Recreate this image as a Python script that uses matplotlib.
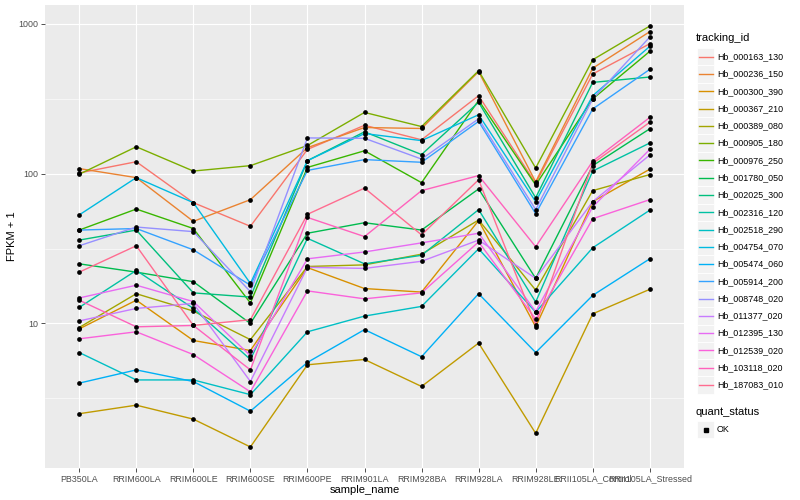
import matplotlib
matplotlib.use("Agg")
import matplotlib.pyplot as plt
import numpy as np
from matplotlib.patches import Rectangle
from matplotlib.lines import Line2D

plt.rcParams["font.family"] = ["Liberation Sans", "DejaVu Sans"]

# ----------------------------------------------------------------- data
samples = ["PB350LA", "RRIM600LA", "RRIM600LE", "RRIM600SE", "RRIM600PE",
           "RRIM901LA", "RRIM928BA", "RRIM928LA", "RRIM928LE",
           "RRII105LA_Control", "RRII105LA_Stressed"]

tracking_ids = ["Hb_000163_130", "Hb_000236_150", "Hb_000300_390", "Hb_000367_210",
                "Hb_000389_080", "Hb_000905_180", "Hb_000976_250", "Hb_001780_050",
                "Hb_002025_300", "Hb_002316_120", "Hb_002518_290", "Hb_004754_070",
                "Hb_005474_060", "Hb_005914_200", "Hb_008748_020", "Hb_011377_020",
                "Hb_012395_130", "Hb_012539_020", "Hb_103118_020", "Hb_187083_010"]

# ggplot default hue palette, 20 levels
hue_colors = ["#F8766D", "#EA8331", "#D89000", "#C09B00", "#A3A500", "#7CAE00",
              "#39B600", "#00BB4E", "#00BF7D", "#00C1A3", "#00BFC4", "#00BAE0",
              "#00B0F6", "#35A2FF", "#9590FF", "#C77CFF", "#E76BF3", "#FA62DB",
              "#FF62BC", "#FF6C90"]

# FPKM + 1, one list per gene, in sample order
hb_000163_130 = [101, 120, 64, 44.5, 145, 210, 168, 331, 86, 462, 735]
hb_000236_150 = [108, 94, 48, 67, 149, 203, 200, 479, 88, 505, 885]
hb_000300_390 = [9.2, 14.3, 7.7, 6.6, 23.6, 17.1, 16.2, 48.6, 9.5, 65, 107]
hb_000367_210 = [2.5, 2.85, 2.3, 1.5, 5.3, 5.75, 3.8, 7.4, 1.85, 11.6, 16.9]
hb_000389_080 = [9.4, 15.8, 12.1, 7.8, 24, 24.6, 29, 49, 16.7, 77, 98.5]
hb_000905_180 = [99, 151, 104, 113, 154, 256, 206, 486, 109, 575, 965]
hb_000976_250 = [42, 58, 43, 13.7, 110, 142, 87, 308, 84, 315, 654]
hb_001780_050 = [25, 22, 19, 10, 40, 47, 42, 79, 20, 113, 199]
hb_002025_300 = [36, 42, 16, 15, 122, 190, 134, 299, 69, 406, 441]
hb_002316_120 = [12.8, 22.6, 12.6, 5.75, 37, 25, 28.5, 57.5, 13.9, 104, 160]
hb_002518_290 = [6.4, 4.2, 4.2, 3.35, 8.8, 11.2, 13, 31.5, 11.9, 32, 57]
hb_004754_070 = [53, 94, 64, 18.5, 122, 185, 166, 247, 65, 331, 706]
hb_005474_060 = [4.0, 4.9, 4.1, 2.6, 5.5, 9.1, 6.0, 15.8, 6.4, 15.4, 27]
hb_005914_200 = [42, 43, 31, 18, 105, 124, 119, 223, 54, 270, 496]
hb_008748_020 = [33, 44, 41, 16.3, 173, 172, 125, 232, 57.5, 315, 815]
hb_011377_020 = [10.4, 12.6, 13.6, 4.1, 23.7, 23.3, 26, 36, 20, 65, 133]
hb_012395_130 = [14.8, 18, 14, 6.1, 27, 30, 34.5, 40, 12, 60, 145]
hb_012539_020 = [7.9, 8.8, 6.2, 3.5, 16.5, 14.6, 16, 35, 10.7, 50, 67]
hb_103118_020 = [14.3, 9.5, 9.7, 4.9, 51, 38, 77, 97, 32.5, 121, 237]
hb_187083_010 = [22, 33, 9.7, 10.6, 53.5, 80, 39, 91, 9.8, 117, 220]

series = [hb_000163_130, hb_000236_150, hb_000300_390, hb_000367_210, hb_000389_080,
          hb_000905_180, hb_000976_250, hb_001780_050, hb_002025_300, hb_002316_120,
          hb_002518_290, hb_004754_070, hb_005474_060, hb_005914_200, hb_008748_020,
          hb_011377_020, hb_012395_130, hb_012539_020, hb_103118_020, hb_187083_010]

y_ticks = [10, 100, 1000]
quant_levels = ["OK"]

# ----------------------------------------------------------------- plot
W, H = 800, 500
fig = plt.figure(figsize=(8, 5), dpi=100)
ax = fig.add_axes([45 / W, 1 - 468 / H, (684 - 45) / W, (468 - 5) / H])
ax.set_facecolor("#EBEBEB")
for s in ax.spines.values():
    s.set_visible(False)

x = np.arange(len(samples))
for vals, col in zip(series, hue_colors):
    ax.plot(x, vals, color=col, lw=1.0, zorder=3)
for vals in series:
    ax.plot(x, vals, "o", color="black", ms=3.4, mec="none", zorder=4)

ax.set_yscale("log")
allv = np.log10(np.concatenate([np.asarray(v, float) for v in series]))
lo, hi = allv.min(), allv.max()
pad = 0.05 * (hi - lo)
ax.set_ylim(10 ** (lo - pad), 10 ** (hi + pad))
ax.set_xlim(-0.6, len(samples) - 0.4)

ax.set_yticks(y_ticks)
ax.set_yticklabels([str(t) for t in y_ticks])
ax.set_yticks([10 ** 0.5, 10 ** 1.5, 10 ** 2.5], minor=True)
ax.yaxis.set_minor_formatter(plt.NullFormatter())
ax.set_xticks(x)
ax.set_xticklabels(samples)

ax.grid(True, which="major", color="white", lw=0.85, zorder=0)
ax.grid(True, which="minor", axis="y", color="white", lw=0.4, zorder=0)
ax.set_axisbelow(True)
ax.tick_params(axis="both", which="major", length=2.8, width=0.6, color="#333333",
               labelsize=6.4, labelcolor="#4D4D4D", pad=2)
ax.tick_params(axis="y", which="minor", length=0)

ax.set_xlabel("sample_name", fontsize=8, color="black", labelpad=1)
ax.set_ylabel("FPKM + 1", fontsize=8, color="black", labelpad=1)

# ----------------------------------------------------------------- legend (ggplot style)
def px(xp, yp):
    return xp / W, 1 - yp / H

fig.text(*px(696, 38), "tracking_id", fontsize=8, va="center", ha="left")
step = 17.28
for i, (name, col) in enumerate(zip(tracking_ids, hue_colors)):
    cy = 56.7 + step * i
    x0, y0 = px(697, cy + step / 2)
    fig.add_artist(Rectangle((x0, y0), 17 / W, step / H, transform=fig.transFigure,
                             facecolor="#F2F2F2", edgecolor="white", lw=0.6))
    fig.add_artist(Line2D([698.5 / W, 712.5 / W], [1 - cy / H] * 2,
                          transform=fig.transFigure, color=col, lw=1.0))
    fig.text(*px(717, cy), name, fontsize=6.4, va="center", ha="left")

fig.text(*px(696, 412), "quant_status", fontsize=8, va="center", ha="left")
for j, lev in enumerate(quant_levels):
    cy = 429.5 + step * j
    x0, y0 = px(697, cy + step / 2)
    fig.add_artist(Rectangle((x0, y0), 17 / W, step / H, transform=fig.transFigure,
                             facecolor="#F2F2F2", edgecolor="white", lw=0.6))
    fig.add_artist(Line2D([705.5 / W], [1 - cy / H], transform=fig.transFigure,
                          marker="s", ms=2.6, color="black", lw=0))
    fig.text(*px(717, cy), lev, fontsize=6.4, va="center", ha="left")

fig.savefig("out.png", dpi=100)
